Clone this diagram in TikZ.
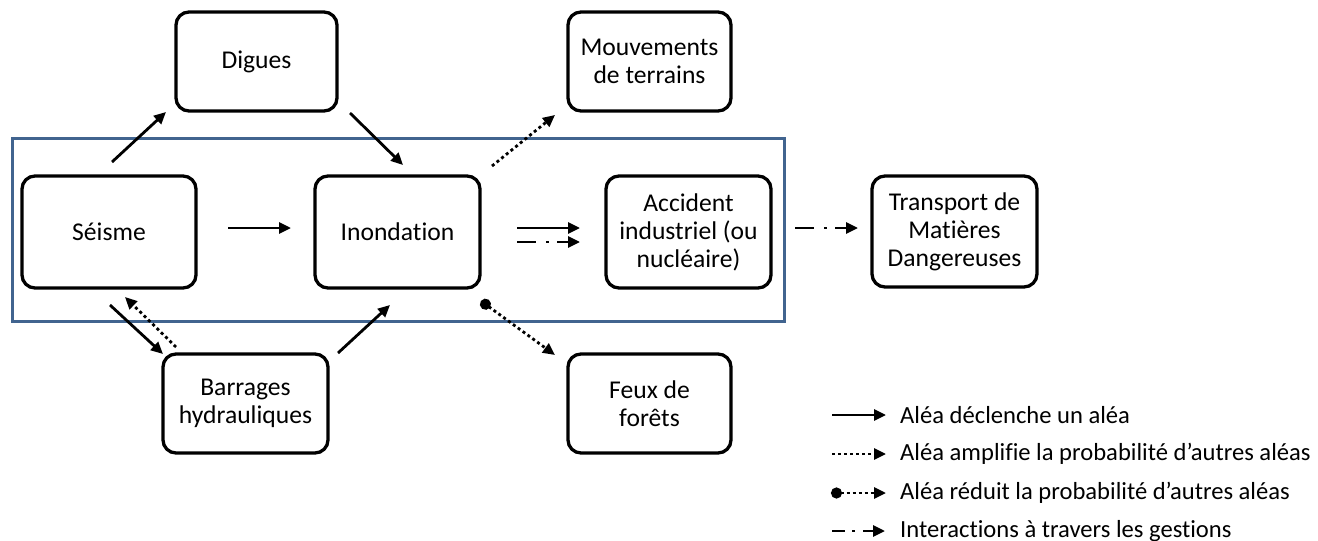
\documentclass[tikz,border=0pt]{standalone}
\usepackage{fontspec}
\setmainfont{Carlito}[Ligatures=NoCommon]
\usetikzlibrary{arrows.meta}
\definecolor{frameblue}{HTML}{41648F}
\begin{document}
\begin{tikzpicture}[x=1pt,y=-1pt,
  box/.style={draw, line width=3.3pt, rounded corners=13pt, align=center,
    font=\fontsize{25.6}{28}\selectfont, inner sep=0pt},
  tip/.style={-{Triangle[length=12pt,width=11pt]}},
  trig/.style={tip, line width=2.8pt},
  ampl/.style={tip, line width=2.8pt, dash pattern=on 3pt off 3pt},
  reduc/.style={{Circle[length=11pt]}-{Triangle[length=12pt,width=11pt]},
    line width=2.8pt, dash pattern=on 3pt off 3pt},
  manag/.style={tip, line width=2.8pt, dash pattern=on 19pt off 10pt on 3pt off 8pt},
  legmanag/.style={tip, line width=2.8pt, dash pattern=on 13pt off 7pt on 3pt off 8pt},
  legtext/.style={anchor=west, inner sep=0pt, font=\fontsize{24.6}{28}\selectfont}]
\useasboundingbox (0,0) rectangle (1318,541);

% frame
\node[draw=frameblue, line width=3.3pt, minimum width=772pt, minimum height=183pt,
  inner sep=0pt, anchor=north west] (frame) at (11,137) {};

% boxes
\node[box, minimum width=174pt, minimum height=112pt] (seisme) at (109,232) {Séisme};
\node[box, minimum width=165pt, minimum height=112pt] (inond) at (397.5,232) {Inondation};
\node[box, minimum width=161pt, minimum height=99pt] (digues) at (256.5,61.5) {Digues};
\node[box, minimum width=163pt, minimum height=99pt] (mouv) at (649.5,61.5) {Mouvements\\de terrains};
\node[box, minimum width=165pt, minimum height=112pt] (accid) at (688.5,232) {Accident\\industriel (ou\\nucléaire)};
\node[box, minimum width=165pt, minimum height=111pt] (transp) at (954.5,231.5) {Transport de\\Matières\\Dangereuses};
\node[box, minimum width=165pt, minimum height=99pt] (barr) at (245.5,403.5) {Barrages\\hydrauliques};
\node[box, minimum width=163pt, minimum height=99pt] (feux) at (649.5,403.5) {Feux de\\forêts};

% connector end points
\coordinate (sd1) at (112,162);  \coordinate (sd2) at (166,112);
\coordinate (di1) at (350,113);  \coordinate (di2) at (403,165);
\coordinate (si1) at (228,228);  \coordinate (si2) at (291,228);
\coordinate (sb1) at (110,305);  \coordinate (sb2) at (163,354);
\coordinate (bs1) at (176,347);  \coordinate (bs2) at (125,297);
\coordinate (bi1) at (338,353);  \coordinate (bi2) at (390,305);
\coordinate (im1) at (492,166);  \coordinate (im2) at (555,115);
\coordinate (ia1) at (517,228);  \coordinate (ia2) at (580,228);
\coordinate (ib1) at (517,242);  \coordinate (ib2) at (580,242);
\coordinate (if1) at (481,301);  \coordinate (if2) at (555,355);
\coordinate (at1) at (795,228);  \coordinate (at2) at (858,228);

\draw[trig] (sd1) -- (sd2);
\draw[trig] (di1) -- (di2);
\draw[trig] (si1) -- (si2);
\draw[trig] (sb1) -- (sb2);
\draw[ampl] (bs1) -- (bs2);
\draw[trig] (bi1) -- (bi2);
\draw[ampl] (im1) -- (im2);
\draw[trig] (ia1) -- (ia2);
\draw[manag] (ib1) -- (ib2);
\draw[reduc] (if1) -- (if2);
\draw[manag] (at1) -- (at2);

% legend
\coordinate (l1a) at (832,415); \coordinate (l1b) at (886,415);
\coordinate (l2a) at (832,454); \coordinate (l2b) at (886,454);
\coordinate (l3a) at (831,493); \coordinate (l3b) at (886,493);
\coordinate (l4a) at (832,531); \coordinate (l4b) at (885,531);
\draw[trig] (l1a) -- (l1b);
\draw[ampl] (l2a) -- (l2b);
\draw[reduc] (l3a) -- (l3b);
\draw[legmanag] (l4a) -- (l4b);
\node[legtext] (t1) at (900,415) {Aléa déclenche un aléa};
\node[legtext] (t2) at (900,454) {Aléa amplifie la probabilité d’autres aléas};
\node[legtext] (t3) at (900,493) {Aléa réduit la probabilité d’autres aléas};
\node[legtext] (t4) at (900,531) {Interactions à travers les gestions};
\end{tikzpicture}
\end{document}
